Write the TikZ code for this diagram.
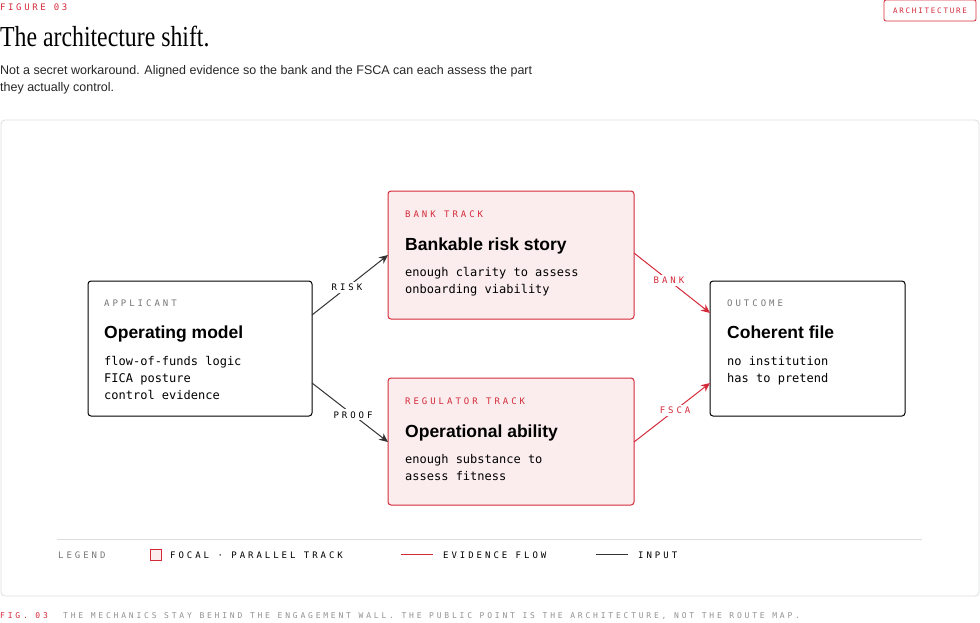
\documentclass[tikz,border=0pt]{standalone}
\usepackage{fontspec}
\setmainfont{Liberation Sans}
\newfontfamily\titlefont{Liberation Serif}[FakeStretch=0.82]
\newfontfamily\monofont{DejaVu Sans Mono}
\newfontfamily\spacedmono{DejaVu Sans Mono}[LetterSpace=33]
\newfontfamily\capmono{DejaVu Sans Mono}[LetterSpace=29]
\newfontfamily\captionmono{DejaVu Sans Mono}[LetterSpace=35]
\newfontfamily\badgemono{DejaVu Sans Mono}[LetterSpace=24]
\usetikzlibrary{arrows.meta}
\definecolor{accent}{HTML}{D42A3A}
\definecolor{pinkfill}{HTML}{FBEDED}
\definecolor{graytext}{HTML}{777777}
\definecolor{panel}{HTML}{DDDDDD}
\begin{document}
\begin{tikzpicture}[x=1pt,y=-1pt,
  txt/.style={anchor=base west,inner sep=0pt},
  lbl/.style={txt,font=\spacedmono\fontsize{9}{10}\selectfont},
  ttl/.style={txt,font=\bfseries\fontsize{17.5}{19}\selectfont},
  body/.style={txt,font=\monofont\fontsize{12}{17}\selectfont,align=left},
  plain/.style={draw=black,line width=1pt,rounded corners=3pt,fill=white},
  focal/.style={draw=accent,line width=1pt,rounded corners=3pt,fill=pinkfill},
  inarrow/.style={draw=black!80,line width=1pt,-{Stealth[length=9pt,width=8pt]}},
  evarrow/.style={draw=accent,line width=1pt,-{Stealth[length=9pt,width=8pt]}},
  edgelbl/.style={fill=white,inner sep=2pt,font=\spacedmono\fontsize{9}{10}\selectfont}]
\useasboundingbox (0,0) rectangle (980,622);
% header
\node[txt,text=accent,font=\capmono\fontsize{9}{10}\selectfont] (fig) at (0,10) {FIGURE 03};
\node[txt,font=\titlefont\fontsize{29}{32}\selectfont] (title) at (0,46) {The architecture shift.};
\node[txt,font=\fontsize{12.5}{17}\selectfont,align=left,text=black!85] (sub) at (0,91)
  {Not a secret workaround. Aligned evidence so the bank and the FSCA can each assess the part\\they actually control.};
\node[draw=accent,line width=0.8pt,rounded corners=2pt,minimum width=92pt,minimum height=21pt,
  text=accent,font=\badgemono\fontsize{7.5}{9}\selectfont] (badge) at (930,10.5) {ARCHITECTURE};
% panel
\draw[panel,line width=0.8pt,rounded corners=4pt] (1,120) rectangle (979,596);
% boxes
\path[plain] (88,281) rectangle (312,416);
\path[focal] (388,191) rectangle (634,319);
\path[focal] (388,378) rectangle (634,505);
\path[plain] (710,281) rectangle (905,416);
\coordinate (appR1) at (312,315);
\coordinate (appR2) at (312,383);
\coordinate (bankL) at (388,255);
\coordinate (bankR) at (634,253);
\coordinate (regL) at (388,442);
\coordinate (regR) at (634,442);
\coordinate (outL1) at (710,313);
\coordinate (outL2) at (710,383);
% applicant
\node[lbl,text=graytext] (a1) at (104,306) {APPLICANT};
\node[ttl] (a2) at (104,338) {Operating model};
\node[body] (a3) at (104,399) {flow-of-funds logic\\FICA posture\\control evidence};
% bank
\node[lbl,text=accent] (b1) at (405,217) {BANK TRACK};
\node[ttl] (b2) at (405,250) {Bankable risk story};
\node[body] (b3) at (405,293) {enough clarity to assess\\onboarding viability};
% regulator
\node[lbl,text=accent] (r1) at (405,404) {REGULATOR TRACK};
\node[ttl] (r2) at (405,437) {Operational ability};
\node[body] (r3) at (405,480) {enough substance to\\assess fitness};
% outcome
\node[lbl,text=graytext] (o1) at (727,306) {OUTCOME};
\node[ttl] (o2) at (727,338) {Coherent file};
\node[body] (o3) at (727,382) {no institution\\has to pretend};
% connectors
\draw[inarrow] (appR1) -- node[edgelbl,pos=0.46] {RISK} (bankL);
\draw[inarrow] (appR2) -- node[edgelbl,pos=0.54] {PROOF} (regL);
\draw[evarrow] (bankR) -- node[edgelbl,text=accent,pos=0.46] {BANK} (outL1);
\draw[evarrow] (regR) -- node[edgelbl,text=accent,pos=0.54] {FSCA} (outL2);
% legend
\draw[panel,line width=0.8pt] (57,539) -- (922,539);
\node[lbl,text=graytext] (lg) at (58,558) {LEGEND};
\draw[accent,fill=pinkfill,line width=0.9pt] (150,549) rectangle (161,560);
\node[lbl] (lf) at (170,558) {FOCAL · PARALLEL TRACK};
\draw[accent,line width=1pt] (401,554) -- (433,554);
\node[lbl] (le) at (443,558) {EVIDENCE FLOW};
\draw[black!80,line width=1pt] (596,554) -- (628,554);
\node[lbl] (li) at (638,558) {INPUT};
% caption
\node[txt,text=accent,font=\captionmono\fontsize{8}{9}\selectfont] (c1) at (0,618) {FIG. 03};
\node[txt,text=graytext!80,font=\captionmono\fontsize{8}{9}\selectfont] (c2) at (63,618) {THE MECHANICS STAY BEHIND THE ENGAGEMENT WALL. THE PUBLIC POINT IS THE ARCHITECTURE, NOT THE ROUTE MAP.};
\end{tikzpicture}
\end{document}
